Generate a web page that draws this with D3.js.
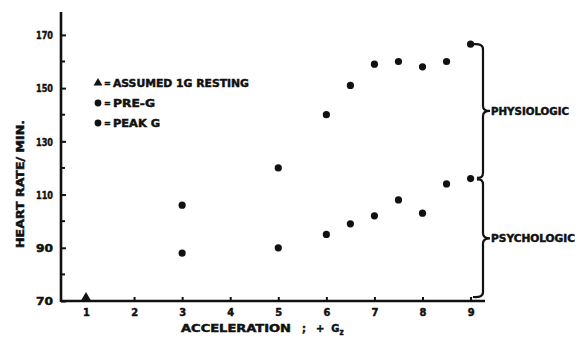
<!DOCTYPE html>
<html>
<head>
<meta charset="utf-8">
<script src="https://cdn.jsdelivr.net/npm/d3@7"></script>
<style>
  html, body { margin: 0; padding: 0; background: #fff; }
  svg text { font-family: "DejaVu Sans Condensed", "DejaVu Sans", sans-serif; font-weight: bold; fill: #111; stroke: #111; stroke-width: 0.45px; }
</style>
</head>
<body>
<svg id="chart" width="579" height="339"></svg>
<script>
// Heart rate vs. acceleration
const accelPre = [3, 5, 6, 6.5, 7, 7.5, 8, 8.5, 9];
const preG = [88, 90, 95, 99, 102, 108, 103, 114, 116];
const accelPeak = [3, 5, 6, 6.5, 7, 7.5, 8, 8.5, 9];
const peakG = [106, 120, 140, 151, 159, 160, 158, 160, 166.5];
const resting = [{ g: 1, hr: 71.3 }];
const xTicks = [1, 2, 3, 4, 5, 6, 7, 8, 9];
const yTicks = [70, 90, 110, 130, 150, 170];
const yMinor = [80, 100, 120, 140, 160];
const legendItems = [
  { symbol: "triangle", label: "ASSUMED 1G RESTING", len: 136 },
  { symbol: "circle", label: "PRE-G", len: 42 },
  { symbol: "circle", label: "PEAK G", len: 47 }
];
const braceLabels = ["PHYSIOLOGIC", "PSYCHOLOGIC"];

const svg = d3.select("#chart");
const x = d3.scaleLinear().domain([0.48, 9.3]).range([61, 485]);
const y = d3.scaleLinear().domain([70, 178.6]).range([301, 12]);

const ink = "#111";

// axes
const xAxis = svg.append("g").attr("transform", `translate(0,${y(70)})`)
  .call(d3.axisBottom(x).tickValues(xTicks).tickSize(-4).tickPadding(7).tickFormat(d3.format("d")));
const yAxis = svg.append("g").attr("transform", `translate(${x.range()[0]},0)`)
  .call(d3.axisLeft(y).tickValues(yTicks).tickSize(-5).tickPadding(8).tickFormat(d3.format("d")));
[xAxis, yAxis].forEach(a => {
  a.select(".domain").attr("stroke", ink).attr("stroke-width", 2.6);
  a.selectAll(".tick line").attr("stroke", ink).attr("stroke-width", 2);
  a.selectAll(".tick text").attr("font-size", 11).attr("fill", ink).attr("font-family", null);
});
xAxis.select(".domain").attr("d", `M${x.range()[0]},0H${x.range()[1]}`);
yAxis.select(".domain").attr("d", `M0,${y.range()[0] + 1}V${y.range()[1]}`);
yAxis.selectAll(".tick text").attr("dy", "0.35em").attr("textLength", 17).attr("lengthAdjust", "spacingAndGlyphs");

// minor ticks on y axis
svg.append("g").selectAll("line").data(yMinor).join("line")
  .attr("x1", x.range()[0]).attr("x2", x.range()[0] + 4)
  .attr("y1", d => y(d)).attr("y2", d => y(d))
  .attr("stroke", ink).attr("stroke-width", 2);

// axis titles
svg.append("text")
  .attr("transform", `translate(24,${(y(170) + y(70)) / 2 + 16}) rotate(-90)`)
  .attr("text-anchor", "middle").attr("font-size", 11)
  .attr("textLength", 128).attr("lengthAdjust", "spacingAndGlyphs")
  .text("HEART RATE/ MIN.");

const xt = svg.append("text").attr("x", 181).attr("y", 332).attr("font-size", 11);
xt.append("tspan").attr("textLength", 110).attr("lengthAdjust", "spacingAndGlyphs").text("ACCELERATION");
xt.append("tspan").attr("dx", 11).text(";");
xt.append("tspan").attr("dx", 10).text("+");
xt.append("tspan").attr("dx", 7).text("G");
xt.append("tspan").attr("font-size", 8).attr("dy", 3).text("z");

// data points
const dots = svg.append("g");
dots.selectAll("circle.pre").data(preG).join("circle").attr("class", "pre")
  .attr("cx", (d, i) => x(accelPre[i])).attr("cy", d => y(d)).attr("r", 3.6).attr("fill", ink);
dots.selectAll("circle.peak").data(peakG).join("circle").attr("class", "peak")
  .attr("cx", (d, i) => x(accelPeak[i])).attr("cy", d => y(d)).attr("r", 3.6).attr("fill", ink);
const tri = d3.symbol().type(d3.symbolTriangle).size(40);
dots.selectAll("path.rest").data(resting).join("path").attr("class", "rest")
  .attr("transform", d => `translate(${x(d.g)},${y(d.hr)})`).attr("d", tri).attr("fill", ink);

// legend
const lg = svg.append("g").attr("transform", "translate(98,83)");
legendItems.forEach((it, i) => {
  const row = lg.append("g").attr("transform", `translate(0,${i * 20})`);
  if (it.symbol === "triangle") row.append("path").attr("d", d3.symbol().type(d3.symbolTriangle).size(34)).attr("fill", ink);
  else row.append("circle").attr("r", 3.4).attr("fill", ink);
  row.append("text").attr("x", 6).attr("dy", "0.35em").attr("font-size", 9).text("=");
  row.append("text").attr("x", 15).attr("dy", "0.38em").attr("font-size", 11)
    .attr("textLength", it.len).attr("lengthAdjust", "spacingAndGlyphs").text(it.label);
});

// curly braces grouping the two components at 9 G
const bx = 483;
function brace(top, bottom, topCurl, bottomCurl) {
  const mid = (top + bottom) / 2;
  const r = 5;
  const p = d3.path();
  p.moveTo(bx - topCurl, top);
  p.quadraticCurveTo(bx, top - 1, bx, top + r);
  p.lineTo(bx, mid - r);
  p.quadraticCurveTo(bx, mid, bx + 7, mid);
  p.quadraticCurveTo(bx, mid, bx, mid + r);
  p.lineTo(bx, bottom - r);
  p.quadraticCurveTo(bx, bottom + 1, bx - bottomCurl, bottom);
  return { d: p.toString(), mid };
}
const braces = [
  brace(y(peakG[peakG.length - 1]), y(preG[preG.length - 1]) - 1, 10, 6),
  brace(y(preG[preG.length - 1]) + 1, y(71.5), 6, 10)
];
braces.forEach((b, i) => {
  svg.append("path").attr("d", b.d).attr("fill", "none").attr("stroke", ink).attr("stroke-width", 2.2);
  svg.append("text").attr("x", bx + 8).attr("y", b.mid).attr("dy", "0.36em").attr("font-size", 10.5)
    .attr("textLength", i === 0 ? 78 : 84).attr("lengthAdjust", "spacingAndGlyphs").text(braceLabels[i]);
});
</script>
</body>
</html>
